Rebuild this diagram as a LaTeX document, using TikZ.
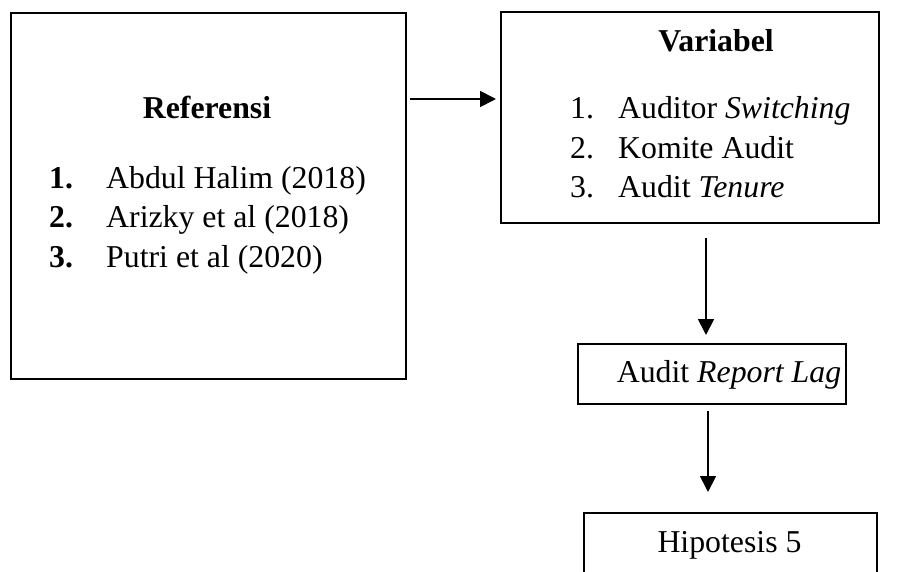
\documentclass[tikz,border=0pt]{standalone}
\usepackage{fontspec}
\setmainfont{Liberation Serif}
\usetikzlibrary{arrows.meta,calc}
\tikzset{
  box/.style={draw=black,line width=1.8pt,rectangle,inner sep=0pt,fill=none},
  txt/.style={inner sep=0pt,font=\fontsize{31.8}{39.5}\selectfont},
  arr/.style={line width=1.8pt,-{Triangle[length=16pt,width=16pt]}}
}
\begin{document}
\begin{tikzpicture}[x=1pt,y=-1pt]
\useasboundingbox (0,0) rectangle (924,572);
\clip (0,0) rectangle (924,572);
\fill[white] (0,0) rectangle (924,572);
% boxes
\node[box,anchor=north west,minimum width=395,minimum height=366] (ref) at (10,12) {};
\node[box,anchor=north west,minimum width=378,minimum height=211] (var) at (500,11) {};
\node[box,anchor=north west,minimum width=268,minimum height=60] (arl) at (577,343) {};
\node[box,anchor=north west,minimum width=293,minimum height=100] (hip) at (583,512) {};
% texts of Referensi
\node[txt,anchor=base] (reft) at (207,119) {\bfseries Referensi};
\node[txt,anchor=base west] (rn1) at (49,189) {\bfseries 1.};
\node[txt,anchor=base west] (rn2) at (49,228) {\bfseries 2.};
\node[txt,anchor=base west] (rn3) at (49,268) {\bfseries 3.};
\node[txt,anchor=base west] (ri1) at (106,189) {Abdul Halim (2018)};
\node[txt,anchor=base west] (ri2) at (106,228) {Arizky et al (2018)};
\node[txt,anchor=base west] (ri3) at (106,268) {Putri et al (2020)};
% texts of Variabel
\node[txt,anchor=base] (vart) at (716,52) {\bfseries Variabel};
\node[txt,anchor=base west] (vn1) at (570,119) {1.};
\node[txt,anchor=base west] (vn2) at (570,159) {2.};
\node[txt,anchor=base west] (vn3) at (570,198) {3.};
\node[txt,anchor=base west] (vi1) at (618,119) {Auditor \textit{Switching}};
\node[txt,anchor=base west] (vi2) at (618,159) {Komite Audit};
\node[txt,anchor=base west] (vi3) at (618,198) {Audit \textit{Tenure}};
% other texts
\node[txt,anchor=base] (arlt) at (729,382) {Audit \textit{Report Lag}};
\node[txt,anchor=base] (hipt) at (729.5,552) {Hipotesis 5};
% connectors
\coordinate (a1s) at ($(ref.north east)+(3,87)$);
\coordinate (a1e) at ($(var.north west)+(-4,88)$);
\draw[arr] (a1s) -- (a1e);
\coordinate (a2s) at ($(var.south west)+(206,14)$);
\coordinate (a2e) at ($(arl.north west)+(129,-8)$);
\draw[arr] (a2s) -- (a2e);
\coordinate (a3s) at ($(arl.south west)+(131,6)$);
\coordinate (a3e) at ($(hip.north west)+(125,-20)$);
\draw[arr] (a3s) -- (a3e);
\end{tikzpicture}
\end{document}
